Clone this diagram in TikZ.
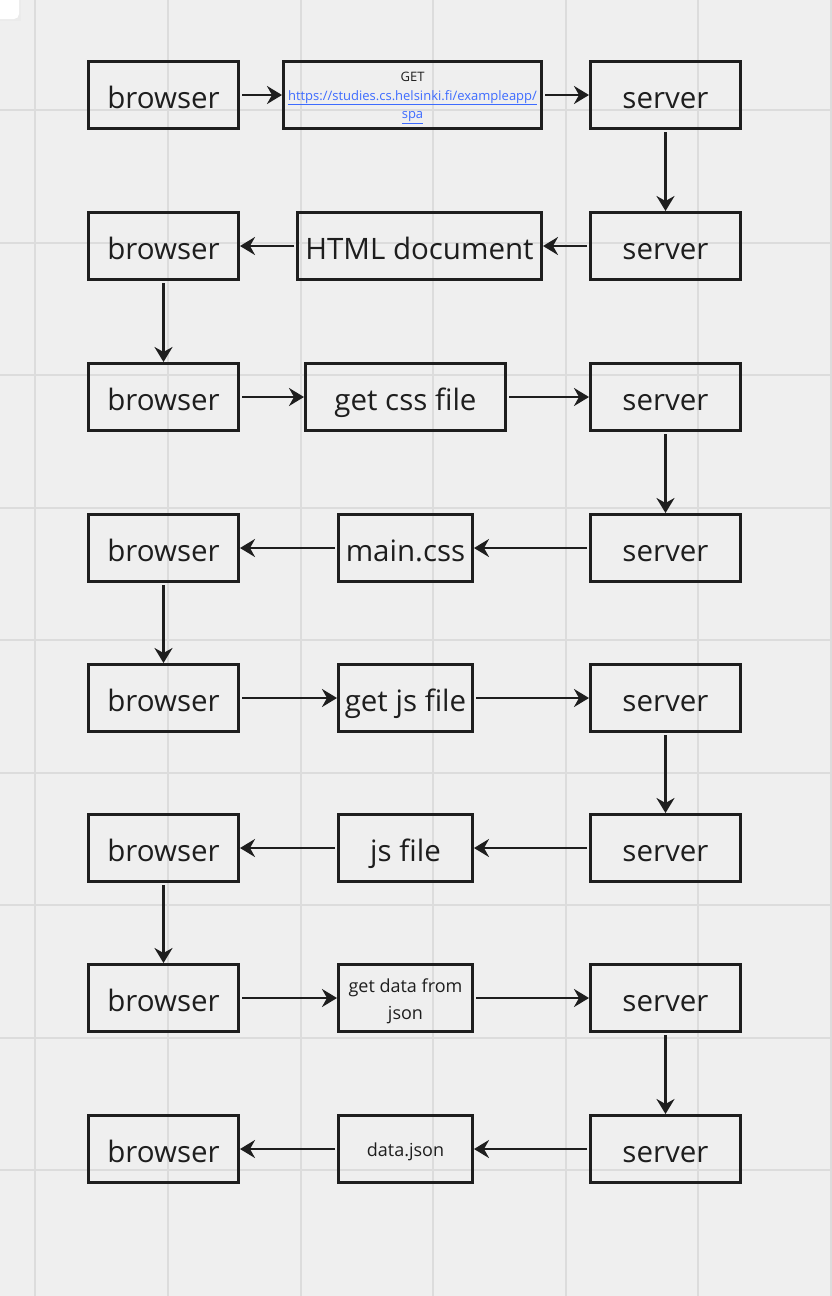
\documentclass[tikz,border=0pt]{standalone}
\usepackage{fontspec}
\setmainfont{Open Sans}
\usetikzlibrary{arrows.meta}
\definecolor{bgcol}{HTML}{EFEFEF}
\definecolor{gridcol}{HTML}{DCDCDC}
\definecolor{ink}{HTML}{1E1E1E}
\definecolor{urlblue}{HTML}{3D6BFF}
\tikzset{
  box/.style={draw=ink, line width=3pt, inner sep=0pt, text=ink, align=center, font=\fontsize{29.5}{34}\selectfont},
  oneline/.style={text height=26pt, text depth=0pt},
  endbox/.style={box, oneline, minimum width=150pt, minimum height=67pt},
  inlabel/.style={label={[text=ink, align=center, inner sep=0pt, yshift=-3pt, font=#1]center:}},
  smalltext/.style={font=\fontsize{18}{27}\selectfont},
  conn/.style={draw=ink, line width=2.8pt, -{Stealth[length=15pt,width=18pt,inset=5pt]}, shorten <=2pt},
}
\begin{document}
\begin{tikzpicture}[x=1pt,y=-1pt]
\useasboundingbox (0,0) rectangle (832,1296);
\fill[bgcol] (0,0) rectangle (832,1296);
% grid
\foreach \gx in {35,168,300.5,433,565.5,698,830.5}
  \draw[gridcol, line width=2pt] (\gx,0) -- (\gx,1296);
\foreach \gy in {110,242.5,375,507.5,640,772.5,905,1037.5,1170}
  \draw[gridcol, line width=2pt] (0,\gy) -- (832,\gy);
% top-left tab
\fill[black!8] (-10,-10) rectangle (21,21);
\fill[white, rounded corners=5pt] (-10,-10) rectangle (19,19);

% left column
\node[endbox] (b1) at (163.5,95) {browser};
\node[endbox] (b2) at (163.5,246) {browser};
\node[endbox] (b3) at (163.5,397) {browser};
\node[endbox] (b4) at (163.5,548) {browser};
\node[endbox] (b5) at (163.5,698) {browser};
\node[endbox] (b6) at (163.5,848) {browser};
\node[endbox] (b7) at (163.5,998) {browser};
\node[endbox] (b8) at (163.5,1149) {browser};
% right column
\node[endbox] (s1) at (665.5,95) {server};
\node[endbox] (s2) at (665.5,246) {server};
\node[endbox] (s3) at (665.5,397) {server};
\node[endbox] (s4) at (665.5,548) {server};
\node[endbox] (s5) at (665.5,698) {server};
\node[endbox] (s6) at (665.5,848) {server};
\node[endbox] (s7) at (665.5,998) {server};
\node[endbox] (s8) at (665.5,1149) {server};
% middle column
\node[box, minimum width=258pt, minimum height=67pt] (m1) at (412.5,95) {};
\node[text=ink, align=center, inner sep=0pt, font=\fontsize{13}{18.5}\selectfont] (m1t) at ([yshift=-3pt]m1.center)
  {GET\\\textcolor{urlblue}{\underline{https://studies.cs.helsinki.fi/exampleapp/}}\\\textcolor{urlblue}{\underline{spa}}};
\node[box, oneline, minimum width=244pt, minimum height=67pt] (m2) at (419.5,246) {HTML document};
\node[box, oneline, minimum width=200pt, minimum height=67pt] (m3) at (405.5,397) {get css file};
\node[box, oneline, minimum width=134pt, minimum height=67pt] (m4) at (405.5,548) {main.css};
\node[box, oneline, minimum width=134pt, minimum height=67pt] (m5) at (405.5,698) {get js file};
\node[box, oneline, minimum width=134pt, minimum height=67pt] (m6) at (405.5,848) {js file};
\node[box, minimum width=134pt, minimum height=67pt] (m7) at (405.5,998) {};
\node[text=ink, align=center, inner sep=0pt, smalltext] (m7t) at ([yshift=-3pt]m7.center) {get data from\\json};
\node[box, minimum width=134pt, minimum height=67pt] (m8) at (405.5,1149) {};
\node[text=ink, align=center, inner sep=0pt, smalltext] (m8t) at ([yshift=-3pt]m8.center) {data.json};

% connectors
\draw[conn] (b1) -- (m1);
\draw[conn] (m1) -- (s1);
\draw[conn] (s1) -- (s2);
\draw[conn] (s2) -- (m2);
\draw[conn] (m2) -- (b2);
\draw[conn] (b2) -- (b3);
\draw[conn] (b3) -- (m3);
\draw[conn] (m3) -- (s3);
\draw[conn] (s3) -- (s4);
\draw[conn] (s4) -- (m4);
\draw[conn] (m4) -- (b4);
\draw[conn] (b4) -- (b5);
\draw[conn] (b5) -- (m5);
\draw[conn] (m5) -- (s5);
\draw[conn] (s5) -- (s6);
\draw[conn] (s6) -- (m6);
\draw[conn] (m6) -- (b6);
\draw[conn] (b6) -- (b7);
\draw[conn] (b7) -- (m7);
\draw[conn] (m7) -- (s7);
\draw[conn] (s7) -- (s8);
\draw[conn] (s8) -- (m8);
\draw[conn] (m8) -- (b8);
\end{tikzpicture}
\end{document}
